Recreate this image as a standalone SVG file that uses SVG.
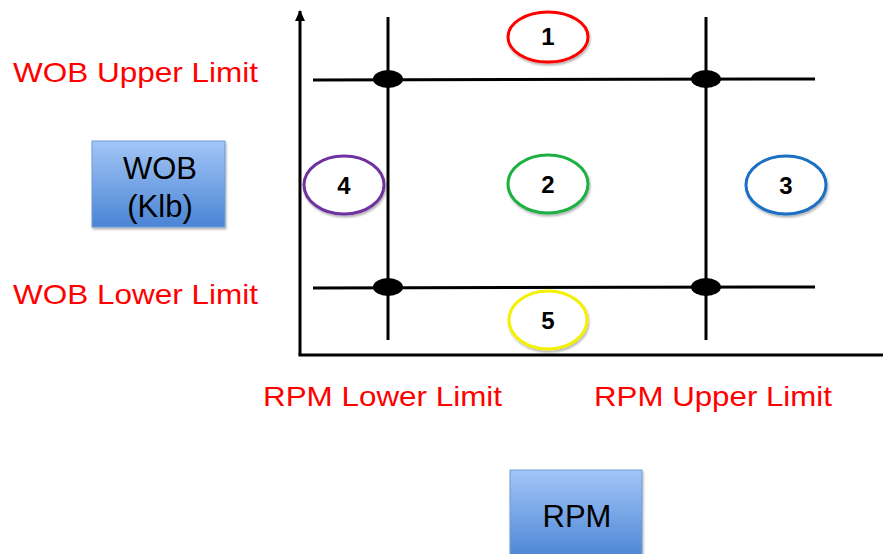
<svg xmlns="http://www.w3.org/2000/svg" width="883" height="554" viewBox="0 0 883 554">
<defs>
<linearGradient id="blue" x1="0" y1="0" x2="0" y2="1">
<stop offset="0" stop-color="#a3c6f7"/>
<stop offset="1" stop-color="#4a84d4"/>
</linearGradient>
<marker id="arr" markerWidth="12" markerHeight="12" refX="10" refY="5" orient="auto" markerUnits="userSpaceOnUse">
<path d="M0,0 L11,5 L0,10 Z" fill="#000"/>
</marker>
<filter id="sh" x="-20%" y="-20%" width="140%" height="150%">
<feDropShadow dx="1" dy="2" stdDeviation="1.2" flood-color="#000" flood-opacity="0.3"/>
</filter>
</defs>
<style>
.ln{stroke:#000;stroke-width:3;fill:none}
.dot{fill:#000}
.lbl{font-family:"Liberation Sans",Arial,sans-serif;font-size:28px;fill:#ff0000}
.zone{fill:#fff;stroke-width:3;filter:url(#sh)}
.num{font-family:"Liberation Sans",Arial,sans-serif;font-size:24px;font-weight:bold;fill:#000;text-anchor:middle}
.box{fill:url(#blue);stroke:#6f9bd6;stroke-width:1;filter:url(#sh)}
.boxt{font-family:"Liberation Sans",Arial,sans-serif;font-size:31px;fill:#000;text-anchor:middle}
</style>
<g id="connectors">
<line class="ln" x1="300" y1="355" x2="300" y2="11" marker-end="url(#arr)"/>
<line class="ln" x1="298.5" y1="355" x2="883" y2="355"/>
<line class="ln" x1="388" y1="17" x2="388" y2="340"/>
<line class="ln" x1="706" y1="17" x2="706" y2="340"/>
<line class="ln" x1="313" y1="80" x2="815" y2="79"/>
<line class="ln" x1="313" y1="288" x2="815" y2="287"/>
<ellipse class="dot" cx="388" cy="79" rx="15" ry="9"/>
<ellipse class="dot" cx="706" cy="79" rx="15" ry="9"/>
<ellipse class="dot" cx="388" cy="287" rx="15" ry="9"/>
<ellipse class="dot" cx="706" cy="287" rx="15" ry="9"/>
</g>
<g id="zone1"><ellipse class="zone" cx="548" cy="37" rx="40" ry="25" stroke="#ff0000"/><text class="num" x="548" y="45">1</text></g>
<g id="zone2"><ellipse class="zone" cx="548" cy="184" rx="40" ry="29" stroke="#1fb043"/><text class="num" x="548" y="193">2</text></g>
<g id="zone3"><ellipse class="zone" cx="786" cy="185" rx="40" ry="29" stroke="#1a6fc4"/><text class="num" x="786" y="194">3</text></g>
<g id="zone4"><ellipse class="zone" cx="344" cy="185" rx="40" ry="29" stroke="#7030a0"/><text class="num" x="344" y="194">4</text></g>
<g id="zone5"><ellipse class="zone" cx="548" cy="320" rx="39" ry="29" stroke="#f4f000"/><text class="num" x="548" y="329">5</text></g>
<g id="labels">
<text class="lbl" x="13" y="82" textLength="245" lengthAdjust="spacingAndGlyphs">WOB Upper Limit</text>
<text class="lbl" x="13" y="304" textLength="245" lengthAdjust="spacingAndGlyphs">WOB Lower Limit</text>
<text class="lbl" x="263" y="406" textLength="239" lengthAdjust="spacingAndGlyphs">RPM Lower Limit</text>
<text class="lbl" x="594" y="406" textLength="238" lengthAdjust="spacingAndGlyphs">RPM Upper Limit</text>
</g>
<g id="wob-box"><rect class="box" x="92" y="141" width="133" height="86"/><text class="boxt" x="160" y="179">WOB</text><text class="boxt" x="160" y="217">(Klb)</text></g>
<g id="rpm-box"><rect class="box" x="510" y="470" width="132" height="90"/><text class="boxt" x="577" y="527">RPM</text></g>
</svg>
